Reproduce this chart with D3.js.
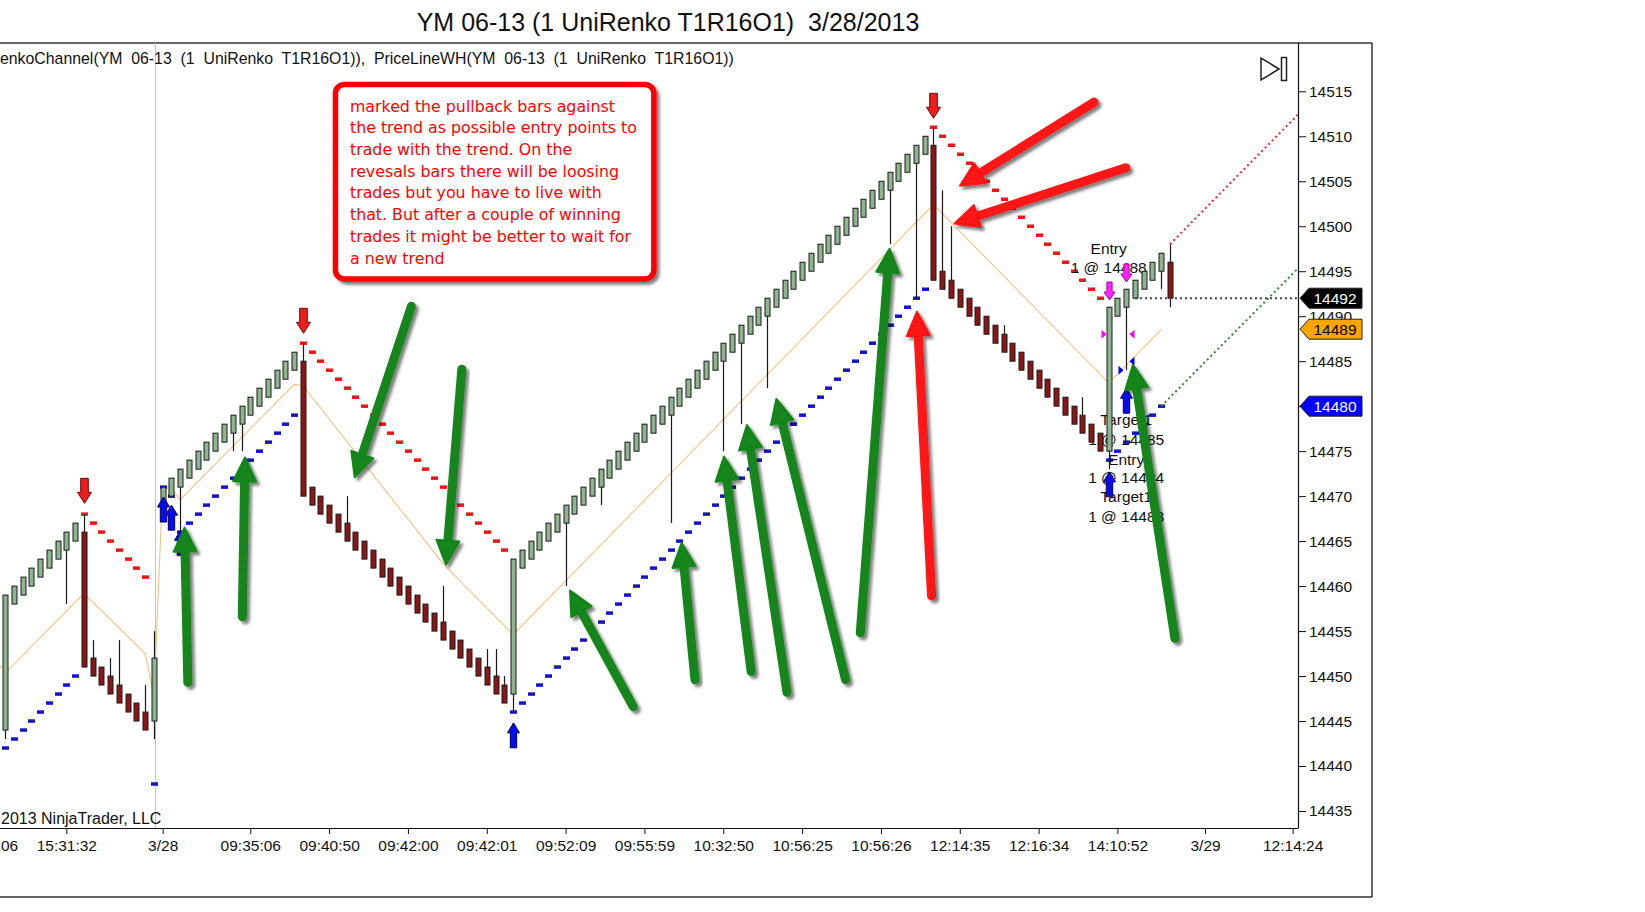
<!DOCTYPE html>
<html>
<head>
<meta charset="utf-8">
<script src="https://cdn.jsdelivr.net/npm/d3@7/dist/d3.min.js"></script>
<style>
html,body{margin:0;padding:0;background:#fff;}
svg{display:block;}
</style>
</head>
<body>
<svg id="chart" width="1645" height="912"></svg>
<script>
// ---------------- DATA ----------------
const title = "YM 06-13 (1 UniRenko T1R16O1)  3/28/2013";
const legendText = "enkoChannel(YM  06-13  (1  UniRenko  T1R16O1)),  PriceLineWH(YM  06-13  (1  UniRenko  T1R16O1))";
const copyright = "2013 NinjaTrader, LLC";

// Renko bars (index 0..133)
const opens = [
14444,14458,14459,14460,14461,14462,14463,14464,14465,
14466,14452,14451,14450,14449,14448,14447,14446,
14445,14469,14470,14471,14472,14473,14474,14475,14476,14477,14478,14479,14480,14481,14482,14483,14484,
14485,14471,14470,14469,14468,14467,14466,14465,14464,14463,14462,14461,14460,14459,14458,14457,14456,14455,14454,14453,14452,14451,14450,14449,
14448,
14462,14463,14464,14465,14466,14467,14468,14469,14470,14471,
14472,14473,14474,14475,14476,14477,14478,14479,14480,14481,
14482,14483,14484,14485,14486,14487,14488,14489,14490,14491,
14492,14493,14494,14495,14496,14497,14498,14499,14500,14501,
14502,14503,14504,14505,14506,14507,14508,
14509,
14495,14494,14493,14492,14491,14490,14489,14488,14487,14486,14485,14484,14483,14482,14481,14480,14479,14478,14477,
14475,
14490,14491,14492,14493,14494,14495,
14496
];
const closes = [
14459,14460,14461,14462,14463,14464,14465,14466,14467,
14451,14450,14449,14448,14447,14446,14445,14444,
14452,14471,14472,14473,14474,14475,14476,14477,14478,14479,14480,14481,14482,14483,14484,14485,14486,
14470,14469,14468,14467,14466,14465,14464,14463,14462,14461,14460,14459,14458,14457,14456,14455,14454,14453,14452,14451,14450,14449,14448,14447,
14463,
14464,14465,14466,14467,14468,14469,14470,14471,14472,14473,
14474,14475,14476,14477,14478,14479,14480,14481,14482,14483,
14484,14485,14486,14487,14488,14489,14490,14491,14492,14493,
14494,14495,14496,14497,14498,14499,14500,14501,14502,14503,
14504,14505,14506,14507,14508,14509,14510,
14494,
14493,14492,14491,14490,14489,14488,14487,14486,14485,14484,14483,14482,14481,14480,14479,14478,14477,14476,14475,
14491,
14492,14493,14494,14495,14496,14497,
14492
];
const wickHighIdx = [9,10,12,13,16,17,34,39,50,55,56,57,106,107,108,114,123,133];
const wickHighVal = [14468,14454,14452,14454,14449,14455,14487,14470,14460,14453,14453,14450,14511,14504,14500,14489,14481,14498];
const wickLowIdx  = [0,7,17,20,26,27,58,64,68,76,82,84,87,101,104,126,128,132,133];
const wickLowVal  = [14443,14458,14443,14466,14475,14475,14446,14460,14469,14467,14475,14478,14482,14498,14492,14473,14484,14493,14491];

// Channel dots: [start bar, values...]
const upperBand = [
  [9,   [14468,14467,14466,14465,14464,14463,14462,14461]],
  [34,  [14487,14486,14485,14484,14483,14482,14481,14480,14479,14478,14477,14476,14475,14474,14473,14472,14471,14470,14469,14468,14467,14466,14465,14464]],
  [106, [14511,14510,14509,14508,14507,14506,14505,14504,14503,14502,14501,14500,14499,14498,14497,14496,14495,14494,14493,14492]]
];
const lowerBand = [
  [0,   [14442,14443,14444,14445,14446,14447,14448,14449,14450]],
  [17,  [14438,14471,14470,14466,14467,14468,14469,14470,14471,14472,14473,14474,14475,14476,14477,14478,14479]],
  [58,  [14446,14447,14448,14449,14450,14451,14452,14453,14454,14455,14456,14457,14458,14459,14460,14461,14462,14463,14464,14465,14466,14467,14468,14469,14470,14471,14472,14473,14474,14475,14476,14477,14478,14479,14480,14481,14482,14483,14484,14485,14486,14487,14488,14489,14490,14491,14492,14493]],
  [126, [14474,14475,14476,14477,14478,14479,14480]]
];
// Channel mid line vertices
const midIdx = [-1, 0.2, 9, 16, 17, 18, 19, 20, 33, 34, 50, 58, 106, 126, 132];
const midVal = [14451.5,14450.5,14459.2,14452.5,14447.8,14470.9,14470.9,14469.6,14482.4,14482.3,14462.5,14454.6,14502.4,14482.6,14488.5];

// Signals
const downSignalIdx = [9, 34, 106];
const downSignalTip = [14469.2, 14488.1, 14512.0];
const upSignalIdx = [18, 19, 20, 58, 126, 128];
const upSignalTip = [14469.9, 14469.0, 14466.2, 14444.8, 14472.7, 14482.0];
const entryArrowIdx = [126, 128];
const entryArrowTip = [14491.8, 14493.8];
const execIdx = [126, 128, 128, 128];
const execVal = [14488, 14488, 14484, 14485];
const execDir = [1, -1, 1, -1];
const execColor = ["#ff00ff", "#ff00ff", "#0000ff", "#0000ff"];
const tradeLabelIdx = [126, 126, 128, 128, 128, 128, 128, 128];
const tradeLabelVal = [14496.9, 14494.8, 14477.9, 14475.7, 14473.5, 14471.5, 14469.3, 14467.1];
const tradeLabelText = ["Entry", "1 @ 14488", "Target1", "1 @ 14485", "Entry", "1 @ 14484", "Target1", "1 @ 14483"];

// Price line & projections
const lastPrice = 14492, lastPriceFrom = 129;
const upperProj = [[133, 14498], [147.6, 14512.4]];
const lowerProj = [[132, 14480], [147.6, 14495.3]];
const tagVals = [14492, 14489, 14480];
const tagFill = ["#000000", "#ffa500", "#0000ff"];
const tagInk  = ["#ffffff", "#000000", "#ffffff"];
const tagNudge = [0, 4, 0];

// Axes
const yTickVals = [14435,14440,14445,14450,14455,14460,14465,14470,14475,14480,14485,14490,14495,14500,14505,14510,14515];
const xTickIdx = [-2, 7, 18, 28, 37, 46, 55, 64, 73, 82, 91, 100, 109, 118, 127, 137, 147];
const xTickLabels = ["15:30:06","15:31:32","3/28","09:35:06","09:40:50","09:42:00","09:42:01","09:52:09","09:55:59","10:32:50","10:56:25","10:56:26","12:14:35","12:16:34","14:10:52","3/29","12:14:24"];
const sessionBreakIdx = 17.1;

// Hand-drawn annotations: [tailIdx, tailPrice, tipIdx, tipPrice]
const greenArrows = [
  [20.87,14449.3, 20.50,14466.5],
  [27.09,14456.6, 27.40,14474.3],
  [46.39,14491.1, 39.92,14472.1],
  [52.15,14484.1, 50.34,14462.4],
  [71.72,14446.6, 64.50,14459.5],
  [78.77,14449.6, 77.25,14464.8],
  [85.18,14450.5, 82.08,14474.4],
  [89.27,14448.2, 84.70,14477.9],
  [95.96,14449.6, 88.06,14480.8],
  [97.64,14454.8, 100.98,14497.5],
  [133.56,14454.2, 128.77,14484.6]
];
const redArrows = [
  [124.34,14513.8, 109.02,14504.5],
  [127.95,14506.5, 108.41,14500.3],
  [105.78,14458.9, 104.11,14490.5]
];
const noteCorners = [[37.41, 14516.07], [74.39, 14493.83]];
const noteLines = [
  "marked the pullback bars against",
  "the trend as possible entry points to",
  "trade with the trend. On the",
  "revesals bars there will be loosing",
  "trades but you have to live with",
  "that. But after a couple of winning",
  "trades it might be better to wait for",
  "a new trend"
];

// ---------------- DRAW ----------------
const FONT = "'Liberation Sans', Arial, sans-serif";
const svg = d3.select("#chart");
const defs = svg.append("defs");
defs.append("clipPath").attr("id","plotClip").append("rect")
  .attr("x",0).attr("y",43).attr("width",1298).attr("height",785);
const flt = defs.append("filter").attr("id","shadow")
  .attr("x","-30%").attr("y","-30%").attr("width","160%").attr("height","160%");
flt.append("feDropShadow").attr("dx",3).attr("dy",3).attr("stdDeviation",1.6)
  .attr("flood-color","#000").attr("flood-opacity",0.5);

const x = d3.scaleLinear().domain([0,133]).range([5,1170]);
const y = d3.scaleLinear().domain([14435,14515]).range([811,91.3]);
const px = i => Math.round(x(i)) + 0.5;

// title
svg.append("text").attr("x",668).attr("y",31).attr("text-anchor","middle")
  .attr("font-family",FONT).attr("font-size",25).attr("fill","#111")
  .attr("xml:space","preserve").style("white-space","pre").text(title);

// frame
const frame = svg.append("g").attr("stroke","#333").attr("stroke-width",1.5).attr("fill","none");
frame.append("line").attr("x1",0).attr("x2",1372).attr("y1",43).attr("y2",43);
frame.append("line").attr("x1",1372).attr("x2",1372).attr("y1",43).attr("y2",897);
frame.append("line").attr("x1",0).attr("x2",1372).attr("y1",897).attr("y2",897);

const plot = svg.append("g").attr("clip-path","url(#plotClip)");

// session break
plot.append("line").attr("x1",px(sessionBreakIdx)).attr("x2",px(sessionBreakIdx))
  .attr("y1",43).attr("y2",828).attr("stroke","#c4c4c4").attr("stroke-width",1);

// mid line
plot.append("path")
  .datum(midIdx.map((d,k)=>[d, midVal[k]]))
  .attr("d", d3.line().x(d=>x(d[0])).y(d=>y(d[1])))
  .attr("fill","none").attr("stroke","#f3c47e").attr("stroke-width",1.1);

// channel dots
function bandPoints(band){
  const pts = [];
  band.forEach(([s, vals]) => vals.forEach((v,k)=>pts.push({i:s+k, v})));
  return pts;
}
plot.append("g").selectAll("rect").data(bandPoints(upperBand)).join("rect")
  .attr("x",d=>px(d.i)-3.5).attr("y",d=>y(d.v)-1.75).attr("width",7).attr("height",3.5).attr("fill","#ee1515");
plot.append("g").selectAll("rect").data(bandPoints(lowerBand)).join("rect")
  .attr("x",d=>px(d.i)-3.5).attr("y",d=>y(d.v)-1.75).attr("width",7).attr("height",3.5).attr("fill","#1414c8");

// trade labels (behind bars)
plot.append("g").selectAll("text").data(tradeLabelText).join("text")
  .attr("x",(d,k)=>x(tradeLabelIdx[k])).attr("y",(d,k)=>y(tradeLabelVal[k]))
  .attr("text-anchor","middle").attr("font-family",FONT).attr("font-size",15.5).attr("fill","#111")
  .text(d=>d);

// bars
const bars = opens.map((o,i)=>({i, o, c:closes[i], h:Math.max(o,closes[i]), l:Math.min(o,closes[i])}));
wickHighIdx.forEach((k,j)=>bars[k].h = wickHighVal[j]);
wickLowIdx.forEach((k,j)=>bars[k].l = wickLowVal[j]);
const gb = plot.append("g");
gb.selectAll("line").data(bars).join("line")
  .attr("x1",d=>px(d.i)).attr("x2",d=>px(d.i)).attr("y1",d=>y(d.h)).attr("y2",d=>y(d.l))
  .attr("stroke","#1a1a1a").attr("stroke-width",1.2);
gb.selectAll("rect").data(bars).join("rect")
  .attr("x",d=>px(d.i)-2.5).attr("width",5)
  .attr("y",d=>y(Math.max(d.o,d.c))).attr("height",d=>y(Math.min(d.o,d.c))-y(Math.max(d.o,d.c)))
  .attr("fill",d=>d.c>=d.o?"#8fb58f":"#8e1515").attr("stroke","#1a1a1a").attr("stroke-width",1);

// price line and projections
plot.append("line").attr("x1",x(lastPriceFrom)).attr("x2",1298).attr("y1",y(lastPrice)).attr("y2",y(lastPrice))
  .attr("stroke","#3a4a3a").attr("stroke-width",2).attr("stroke-dasharray","2,3");
plot.append("line").attr("x1",x(upperProj[0][0])).attr("y1",y(upperProj[0][1]))
  .attr("x2",x(upperProj[1][0])).attr("y2",y(upperProj[1][1]))
  .attr("stroke","#e03030").attr("stroke-width",2).attr("stroke-dasharray","2,3");
plot.append("line").attr("x1",x(lowerProj[0][0])).attr("y1",y(lowerProj[0][1]))
  .attr("x2",x(lowerProj[1][0])).attr("y2",y(lowerProj[1][1]))
  .attr("stroke","#2e8a2e").attr("stroke-width",2).attr("stroke-dasharray","2,3");

// block arrows
function blockArrow(g, cx, tipY, dir, len, hw, sw, hl, fill, stroke){
  // dir = 1 pointing down, -1 pointing up
  const b = tipY - dir*hl, e = tipY - dir*len;
  const pts = [[cx,tipY],[cx+hw,b],[cx+sw,b],[cx+sw,e],[cx-sw,e],[cx-sw,b],[cx-hw,b]];
  g.append("polygon").attr("points",pts.map(p=>p.join(",")).join(" "))
    .attr("fill",fill).attr("stroke",stroke).attr("stroke-width",1);
}
const ga = plot.append("g");
downSignalIdx.forEach((k,j)=>blockArrow(ga, px(k), y(downSignalTip[j]), 1, 25, 7, 3.8, 11, "#ee1c1c", "#6a0a0a"));
upSignalIdx.forEach((k,j)=>blockArrow(ga, px(k), y(upSignalTip[j]), -1, 25, 6, 3.2, 10, "#0a0aee", "#000060"));
entryArrowIdx.forEach((k,j)=>blockArrow(ga, px(k), y(entryArrowTip[j]), 1, 18, 5.5, 2.6, 8, "#ff22ff", "#b000b0"));
execIdx.forEach((k,j)=>{
  const cx = px(k), yy = y(execVal[j]), d = execDir[j];
  const tipX = cx - d*3, baseX = cx - d*8;
  ga.append("polygon").attr("points",[[tipX,yy],[baseX,yy-4.5],[baseX,yy+4.5]].map(p=>p.join(",")).join(" "))
    .attr("fill",execColor[j]);
});

// legend & copyright
svg.append("text").attr("x",0).attr("y",64).attr("font-family",FONT).attr("font-size",15.85)
  .attr("fill","#111").attr("xml:space","preserve").style("white-space","pre").text(legendText);
svg.append("text").attr("x",1).attr("y",824).attr("font-family",FONT).attr("font-size",16)
  .attr("fill","#111").text(copyright);

// play icon
const ic = svg.append("g").attr("fill","none").attr("stroke","#222").attr("stroke-width",1.5);
ic.append("polygon").attr("points","1261,58 1261,80 1279,69");
ic.append("rect").attr("x",1281.5).attr("y",57.5).attr("width",5).attr("height",23);

// axes
const gy = svg.append("g").attr("transform","translate(1298,0)")
  .call(d3.axisRight(y).tickValues(yTickVals).tickSize(8).tickPadding(3).tickFormat(d3.format("d")));
gy.select(".domain").remove();
gy.attr("font-family",FONT).attr("font-size",15.5);
gy.selectAll("line").attr("stroke","#111");
gy.selectAll("text").attr("fill","#111");
// tick label fully hidden under the price tag of the same value
gy.selectAll(".tick").filter(d=>d===14480).select("text").remove();

const gx = svg.append("g").attr("transform","translate(0,828)")
  .call(d3.axisBottom(x).tickValues(xTickIdx).tickSize(6).tickPadding(6).tickFormat((d,k)=>xTickLabels[k]));
gx.select(".domain").remove();
gx.attr("font-family",FONT).attr("font-size",15.5);
gx.selectAll("line").attr("stroke","#111");
gx.selectAll("text").attr("fill","#111");

svg.append("line").attr("x1",1298.5).attr("x2",1298.5).attr("y1",43).attr("y2",828).attr("stroke","#111").attr("stroke-width",1.2);
svg.append("line").attr("x1",0).attr("x2",1298.5).attr("y1",828.5).attr("y2",828.5).attr("stroke","#111").attr("stroke-width",1.2);

// price tags
const gt = svg.append("g");
tagVals.forEach((v,j)=>{
  const yc = y(v) + tagNudge[j];
  const pts = [[1300,yc],[1309,yc-10],[1362,yc-10],[1362,yc+10],[1309,yc+10]];
  gt.append("polygon").attr("points",pts.map(p=>p.join(",")).join(" "))
    .attr("fill",tagFill[j]).attr("stroke","#222").attr("stroke-width",1);
  gt.append("text").attr("x",1335).attr("y",yc+5.5).attr("text-anchor","middle")
    .attr("font-family",FONT).attr("font-size",15.5).attr("fill",tagInk[j]).text(v);
});

// annotations
const ann = svg.append("g");
function thickArrow(t, p, color){
  const g = ann.append("g").attr("filter","url(#shadow)");
  const dx=p[0]-t[0], dy=p[1]-t[1], len=Math.hypot(dx,dy), ux=dx/len, uy=dy/len, nx=-uy, ny=ux;
  const L=24, hw=11.5, bx=p[0]-ux*L, by=p[1]-uy*L;
  g.append("line").attr("x1",t[0]).attr("y1",t[1]).attr("x2",bx+ux*3).attr("y2",by+uy*3)
    .attr("stroke",color).attr("stroke-width",9).attr("stroke-linecap","round");
  g.append("polygon").attr("points",[[p[0],p[1]],[bx+nx*hw,by+ny*hw],[bx-nx*hw,by-ny*hw]].map(q=>q.join(",")).join(" "))
    .attr("fill",color).attr("stroke",color).attr("stroke-width",2).attr("stroke-linejoin","round");
}
greenArrows.forEach(a=>thickArrow([x(a[0]),y(a[1])],[x(a[2]),y(a[3])],"#12851a"));
redArrows.forEach(a=>thickArrow([x(a[0]),y(a[1])],[x(a[2]),y(a[3])],"#ff1212"));

// note box
const bx0 = x(noteCorners[0][0]), by0 = y(noteCorners[0][1]);
const bx1 = x(noteCorners[1][0]), by1 = y(noteCorners[1][1]);
ann.append("rect").attr("x",bx0+2.75).attr("y",by0+2.75).attr("width",bx1-bx0-5.5).attr("height",by1-by0-5.5)
  .attr("rx",9).attr("ry",9).attr("fill","#fff").attr("stroke","#ff0000").attr("stroke-width",5.5)
  .attr("filter","url(#shadow)");
ann.append("g").selectAll("text").data(noteLines).join("text")
  .attr("x",bx0+17.3).attr("y",(d,k)=>by0+30+k*21.7)
  .attr("font-family","'DejaVu Sans', Verdana, sans-serif").attr("font-size",15.8).attr("fill","#ff0000")
  .text(d=>d);
</script>
</body>
</html>
